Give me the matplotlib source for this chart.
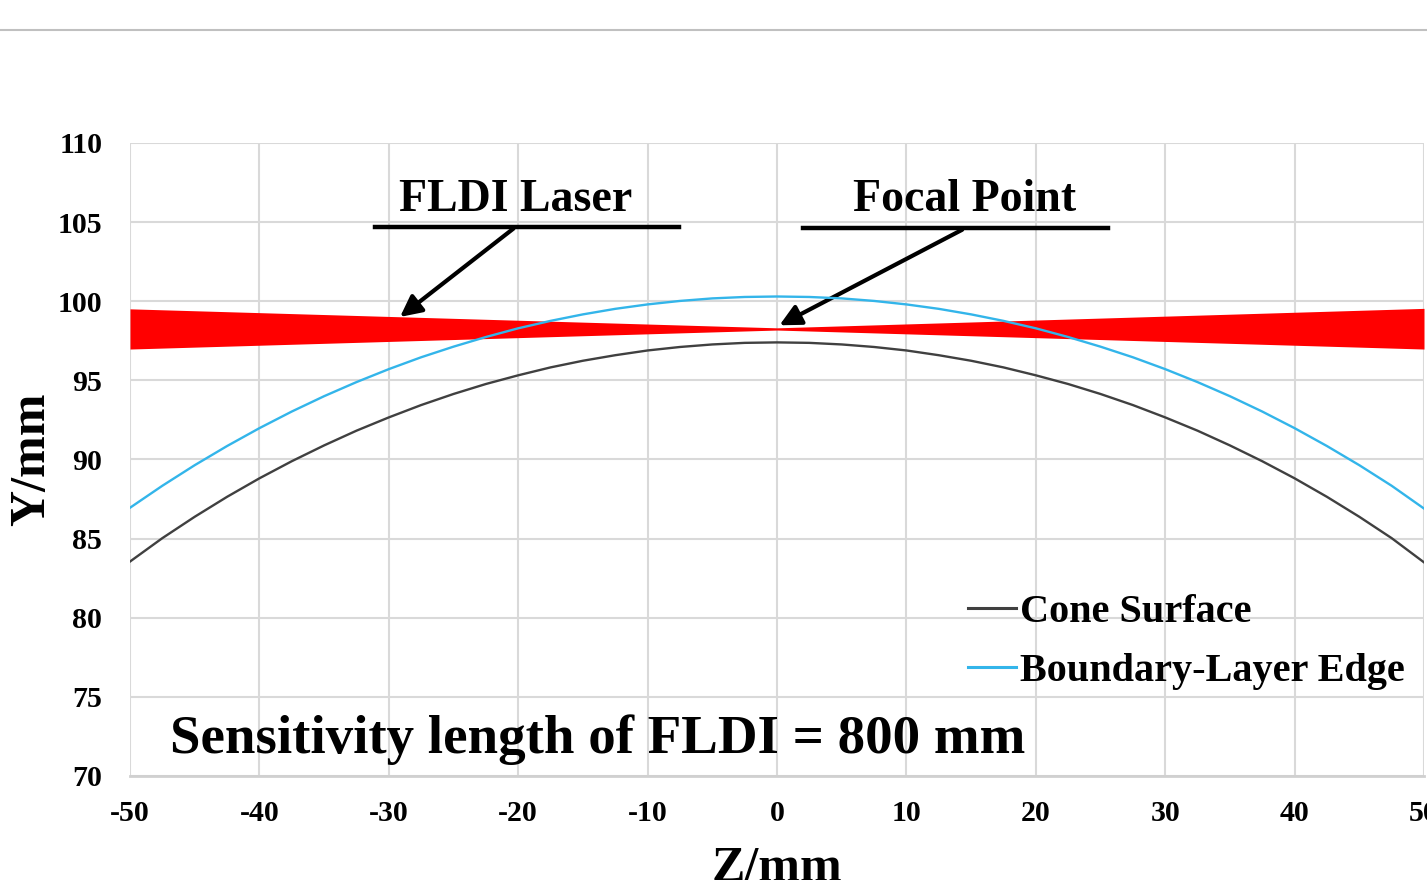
import matplotlib.pyplot as plt
from matplotlib.lines import Line2D

plt.rcParams['font.family'] = ['Liberation Serif', 'DejaVu Serif']
plt.rcParams['font.weight'] = 'bold'
plt.rcParams['axes.unicode_minus'] = False

# surfaces, every 2.5 mm
z = [-50, -47.5, -45, -42.5, -40, -37.5, -35, -32.5, -30, -27.5, -25,
     -22.5, -20, -17.5, -15, -12.5, -10, -7.5, -5, -2.5, 0,
     2.5, 5, 7.5, 10, 12.5, 15, 17.5, 20, 22.5, 25,
     27.5, 30, 32.5, 35, 37.5, 40, 42.5, 45, 47.5, 50]
cone = [83.55, 85.03, 86.38, 87.64, 88.81, 89.89, 90.89, 91.82, 92.66, 93.44, 94.14,
        94.77, 95.32, 95.82, 96.24, 96.59, 96.89, 97.11, 97.27, 97.37, 97.4,
        97.37, 97.27, 97.11, 96.89, 96.59, 96.24, 95.82, 95.32, 94.77, 94.14,
        93.44, 92.66, 91.82, 90.89, 89.89, 88.81, 87.64, 86.38, 85.03, 83.5]
bl_edge = [86.95, 88.34, 89.64, 90.85, 91.98, 93.03, 94.0, 94.89, 95.71, 96.46, 97.13,
           97.74, 98.29, 98.76, 99.17, 99.52, 99.8, 100.02, 100.18, 100.27, 100.3,
           100.27, 100.18, 100.02, 99.8, 99.52, 99.17, 98.76, 98.29, 97.74, 97.13,
           96.46, 95.71, 94.89, 94.0, 93.03, 91.98, 90.85, 89.64, 88.34, 86.9]

# laser beam envelope
z_laser = [-50, 0, 50]
laser_top = [99.52, 98.32, 99.55]
laser_bot = [96.98, 98.18, 96.98]

fig = plt.figure(figsize=(14.27, 8.8), dpi=100)
ax = fig.add_axes([0.0911, 0.1182, 0.9068, 0.7193])

ax.fill_between(z_laser, laser_bot, laser_top, color='red', lw=0, zorder=3)
ax.plot(z, cone, color='#404040', lw=1.7, label='Cone Surface', zorder=4)
ax.plot(z, bl_edge, color='#33b5ea', lw=1.7, label='Boundary-Layer Edge', zorder=4)

ax.set_xlim(-50, 50)
ax.set_ylim(70, 110)
ax.set_xticks(range(-50, 51, 10))
ax.set_yticks(range(70, 111, 5))
ax.grid(True, color='#d9d9d9', lw=1.5)
ax.set_axisbelow(True)
for s in ['top', 'right', 'left']:
    ax.spines[s].set_visible(False)
ax.spines['bottom'].set_color('#d0d0d0')
ax.spines['bottom'].set_linewidth(2)
ax.tick_params(length=0, labelsize=21.5)
ax.tick_params(axis='y', pad=20)
ax.tick_params(axis='x', pad=17)
ax.set_ylabel('Y/mm', fontsize=36, fontweight='bold', labelpad=2)
ax.set_xlabel('Z/mm', fontsize=36, fontweight='bold', labelpad=14)

# annotations
ax.text(-20.2, 106.4, 'FLDI Laser', fontsize=33, ha='center', va='center')
ax.plot([-31.1, -7.6], [104.7, 104.7], color='black', lw=3.2)
ax.annotate('', xy=(-29.3, 98.9), xytext=(-20.2, 104.7),
            arrowprops=dict(arrowstyle='-|>', color='black', lw=3, mutation_scale=32))
ax.text(14.5, 106.4, 'Focal Point', fontsize=33, ha='center', va='center')
ax.plot([2.0, 25.6], [104.6, 104.6], color='black', lw=3.2)
ax.annotate('', xy=(0.0, 98.4), xytext=(14.5, 104.6),
            arrowprops=dict(arrowstyle='-|>', color='black', lw=3, mutation_scale=32))

ax.text(-46.9, 72.3, 'Sensitivity length of FLDI = 800 mm', fontsize=39.5,
        ha='left', va='center')

leg = ax.legend(loc='lower left', bbox_to_anchor=(0.635, 0.11), frameon=False,
                fontsize=29, handlelength=1.2, handletextpad=0.1, labelspacing=0.55,
                borderaxespad=0)
for h in leg.get_lines():
    h.set_linewidth(2.2)

# grey line across the top of the screenshot
fig.add_artist(Line2D([0, 1], [0.966, 0.966], color='#c0c0c0', lw=1.5))

fig.savefig('out.png', dpi=100)
